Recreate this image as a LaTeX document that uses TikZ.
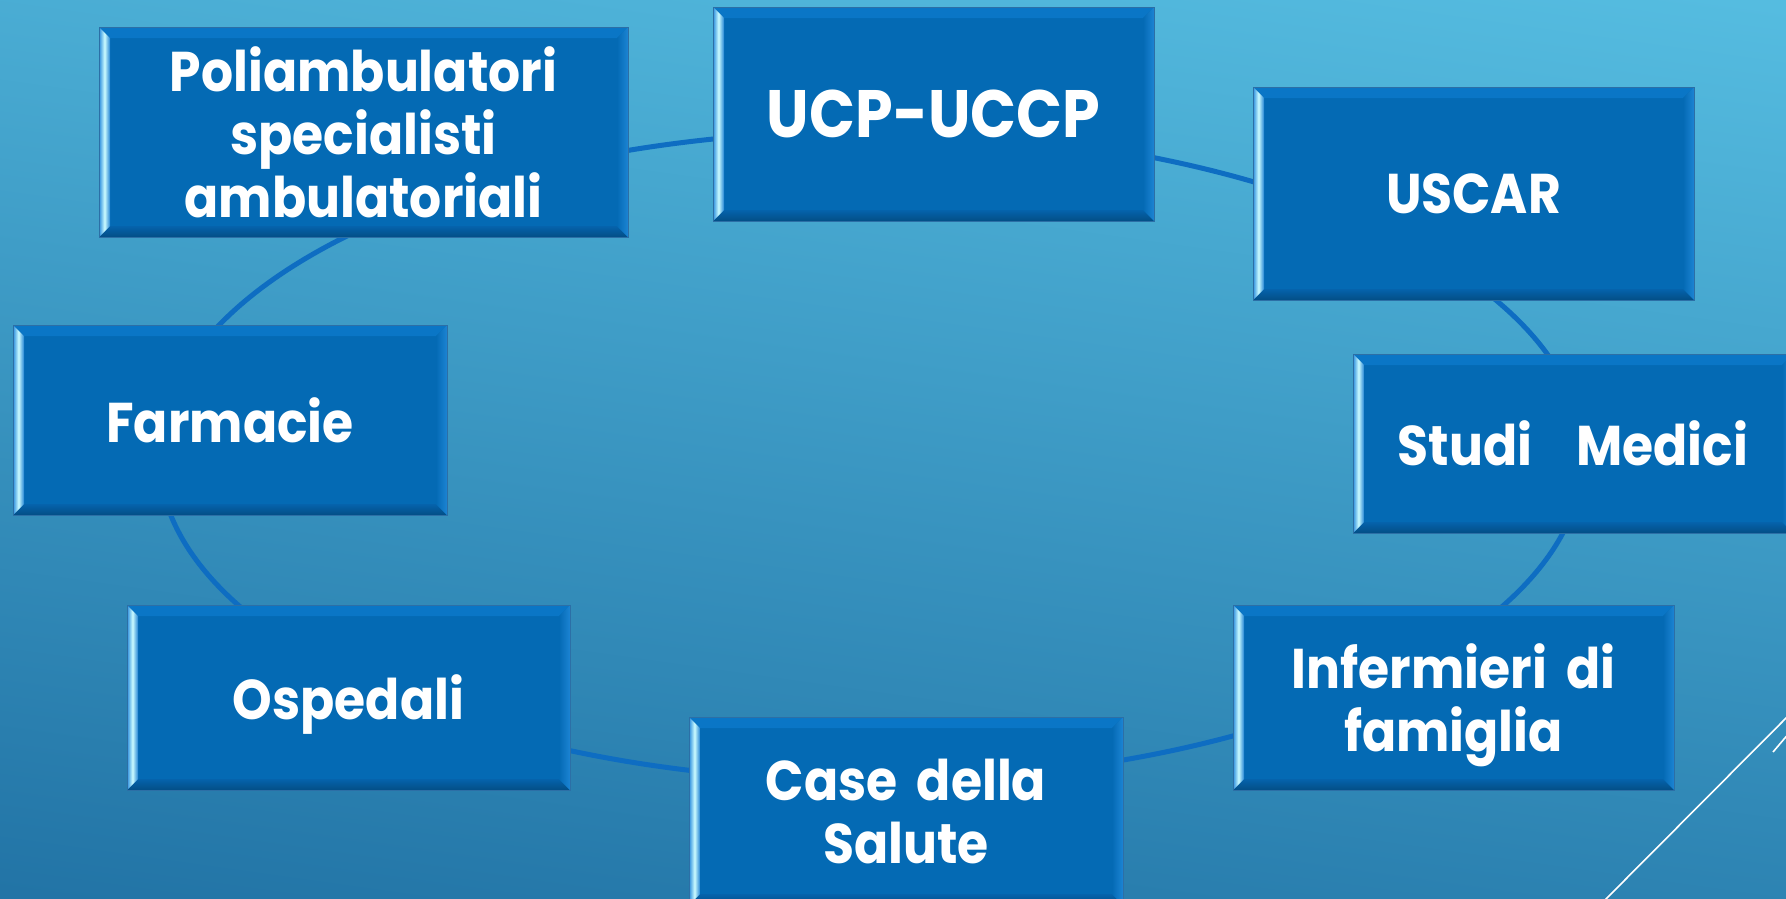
\documentclass[tikz,border=0pt]{standalone}
\usepackage{fontspec}
\setmainfont{Poppins}[FakeStretch=0.9,WordSpace=1.8]
\usetikzlibrary{calc}
\definecolor{bgtop}{HTML}{55BCE0}
\definecolor{bgbot}{HTML}{2274A6}
\definecolor{boxblue}{HTML}{046AB4}
\definecolor{edgeblue}{HTML}{2C6FA6}
\definecolor{ringblue}{HTML}{0E6DC2}
\definecolor{bevtopc}{HTML}{0A76C6}
\definecolor{bevbotA}{HTML}{0563AC}
\definecolor{bevbotB}{HTML}{034E86}
\definecolor{bevright}{HTML}{1C84D4}
\definecolor{bevleftA}{HTML}{2C8EDE}
\definecolor{bevleftM}{HTML}{CCFCFF}
\definecolor{bevleftB}{HTML}{2384D4}
\begin{document}
\begin{tikzpicture}[x=1pt,y=-1pt,
  bevel/.style={path picture={
    \def\bw{11}
    \coordinate (pNW) at (path picture bounding box.north west);
    \coordinate (pNE) at (path picture bounding box.north east);
    \coordinate (pSW) at (path picture bounding box.south west);
    \coordinate (pSE) at (path picture bounding box.south east);
    \fill[bevtopc] (pNW) -- (pNE) -- ($(pNE)+(-\bw,\bw)$) -- ($(pNW)+(\bw,\bw)$) -- cycle;
    \shade[top color=bevbotA, bottom color=bevbotB] (pSW) -- (pSE) -- ($(pSE)+(-\bw,-\bw)$) -- ($(pSW)+(\bw,-\bw)$) -- cycle;
    \shade[left color=boxblue, right color=bevright] (pNE) -- (pSE) -- ($(pSE)+(-\bw,-\bw)$) -- ($(pNE)+(-\bw,\bw)$) -- cycle;
    \shade[left color=bevleftA, right color=bevleftB, middle color=bevleftM] (pNW) -- (pSW) -- ($(pSW)+(\bw,-\bw)$) -- ($(pNW)+(\bw,\bw)$) -- cycle;
  }},
  bx/.style={bevel, fill=boxblue, draw=edgeblue, line width=1pt, inner sep=0pt,
    align=center, text=white, text depth=0pt, font=\bfseries\fontsize{56}{63}\selectfont},
  ring/.style={draw=ringblue, line width=5pt},
  deco/.style={draw=white, line width=1.6pt}]
\useasboundingbox (0,0) rectangle (1786,898);
\clip (0,0) rectangle (1786,898);
\shade[top color=bgtop, bottom color=bgbot, shading angle=-8] (-60,-60) rectangle (1846,958);

\coordinate (c) at (871,456);
\draw[ring] (c) ellipse [x radius=712, y radius=325];

\node[bx, minimum width=529, minimum height=210] (poli) at (363.5,132) {Poliambulatori\\specialisti\\ambulatoriali};
\node[bx, minimum width=441, minimum height=214, font=\bfseries\fontsize{67}{76}\selectfont] (ucp) at (933.5,114) {UCP-UCCP};
\node[bx, minimum width=441, minimum height=213] (uscar) at (1473.5,193.5) {USCAR};
\node[bx, minimum width=440, minimum height=179] (studi) at (1573,443.5) {Studi\hspace{44pt}Medici};
\node[bx, minimum width=434, minimum height=190] (farm) at (230,420) {Farmacie};
\node[bx, minimum width=443, minimum height=185] (osp) at (348.5,697.5) {Ospedali};
\node[bx, minimum width=441, minimum height=185] (inf) at (1453.5,697.5) {Infermieri di\\famiglia};
\node[bx, minimum width=434, minimum height=188] (case) at (906,811) {Case della\\Salute};

\coordinate (d1a) at (1800,704);
\coordinate (d1b) at (1593,912);
\coordinate (d2a) at (1790,732);
\coordinate (d2b) at (1773,752);
\draw[deco] (d1a) -- (d1b);
\draw[deco] (d2a) -- (d2b);
\end{tikzpicture}
\end{document}
